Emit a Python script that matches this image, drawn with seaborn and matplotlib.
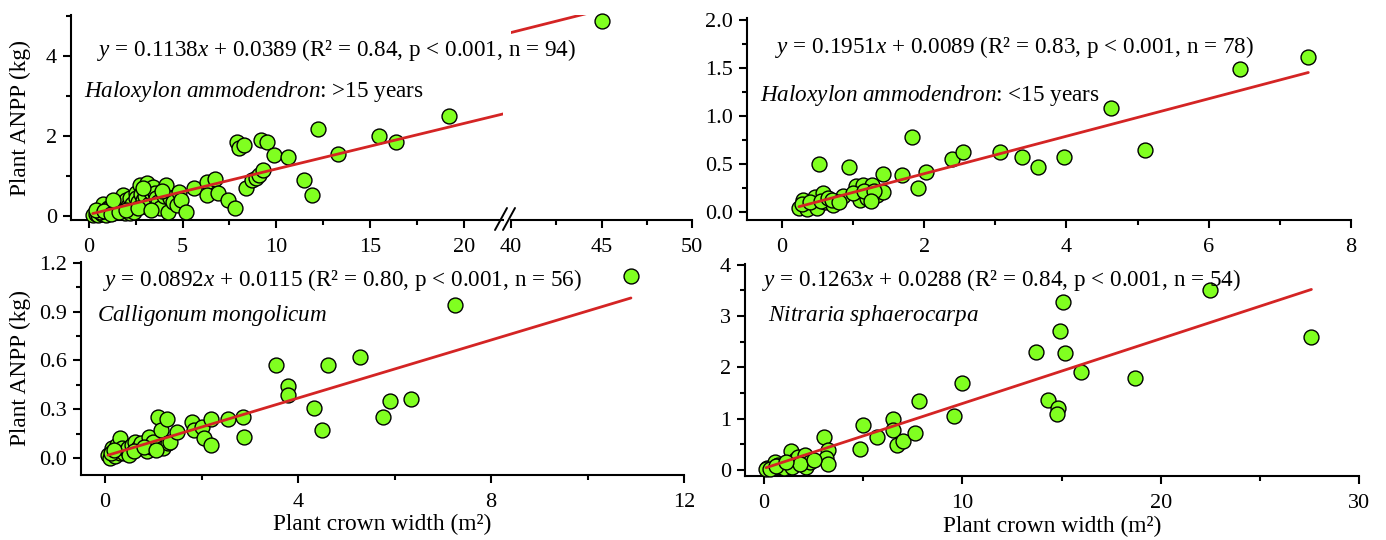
import numpy as np
import pandas as pd
import matplotlib
matplotlib.use("Agg")
import matplotlib.pyplot as plt
import seaborn as sns
from matplotlib.lines import Line2D
from matplotlib.ticker import FixedLocator, FormatStrFormatter

# ---------------- data ----------------
# Haloxylon ammodendron > 15 years
ha_old_x = [0.2, 0.35, 0.5, 0.7, 0.9, 0.6, 0.75, 1.0, 1.1, 1.2, 1.3, 1.4, 1.5, 1.6, 1.7, 1.8,
            1.9, 1.9, 2.0, 2.1, 2.2, 2.2, 2.3, 2.4, 2.5, 2.5, 2.6, 2.7, 2.8, 2.9, 3.0, 3.1,
            3.1, 3.2, 3.3, 3.4, 3.5, 3.6, 3.7, 3.8, 4.0, 4.1, 4.2, 4.3, 4.5, 4.7, 4.8, 4.9,
            5.2, 5.6, 6.3, 6.3, 6.7, 6.9, 7.4, 7.8, 7.9, 8.0, 8.3, 8.4, 8.7, 8.9, 9.1, 9.3,
            9.2, 9.5, 9.9, 10.6, 11.5, 11.9, 12.2, 13.3, 15.5, 16.4, 19.2, 45.0,
            0.4, 0.8, 1.15, 1.6, 2.0, 2.6, 2.9, 3.3, 1.3, 3.9]
ha_old_y = [0.02, 0.05, 0.03, 0.04, 0.02, 0.1, 0.3, 0.2, 0.15, 0.25, 0.07, 0.3, 0.2, 0.32, 0.3, 0.52,
            0.07, 0.35, 0.4, 0.25, 0.07, 0.45, 0.3, 0.1, 0.57, 0.45, 0.35, 0.78, 0.55, 0.4, 0.5, 0.82,
            0.23, 0.3, 0.6, 0.73, 0.57, 0.45, 0.35, 0.2, 0.5, 0.78, 0.1, 0.45, 0.35, 0.27, 0.6, 0.4,
            0.1, 0.7, 0.85, 0.53, 0.92, 0.57, 0.4, 0.2, 1.85, 1.7, 1.77, 0.7, 0.9, 0.95, 1.02, 1.15,
            1.9, 1.85, 1.52, 1.48, 0.9, 0.52, 2.17, 1.55, 2.0, 1.85, 2.5, 4.87,
            0.15, 0.12, 0.05, 0.1, 0.15, 0.2, 0.7, 0.15, 0.4, 0.62]

# Haloxylon ammodendron < 15 years
ha_young_x = [0.24, 0.3, 0.35, 0.46, 0.5, 0.58, 0.6, 0.72, 0.86, 0.52, 0.94, 1.04, 1.1, 1.14,
              1.2, 1.27, 1.34, 1.42, 1.42, 1.69, 1.83, 1.92, 2.03, 2.39, 2.55, 3.07, 3.38,
              3.6, 3.97, 4.63, 5.11, 6.44, 7.4,
              0.28, 0.4, 0.55, 0.65, 0.7, 0.8, 1.0, 1.15, 1.3, 1.25]
ha_young_y = [0.04, 0.13, 0.03, 0.16, 0.04, 0.2, 0.1, 0.07, 0.17, 0.5, 0.47, 0.27, 0.13, 0.28,
              0.15, 0.28, 0.18, 0.21, 0.4, 0.39, 0.78, 0.25, 0.42, 0.55, 0.63, 0.63, 0.57,
              0.47, 0.57, 1.08, 0.65, 1.49, 1.61,
              0.08, 0.1, 0.12, 0.15, 0.13, 0.1, 0.2, 0.22, 0.22, 0.12]

# Calligonum mongolicum
cm_x = [0.06, 0.1, 0.15, 0.2, 0.22, 0.25, 0.3, 0.3, 0.35, 0.4, 0.45, 0.48, 0.55, 0.62, 0.68,
        0.75, 0.87, 0.9, 0.95, 1.0, 1.1, 1.15, 1.2, 1.29, 1.3, 1.35, 1.5, 1.8, 1.85, 2.0,
        2.05, 2.2, 2.2, 2.55, 2.85, 2.88, 3.55, 3.8, 3.8, 4.34, 4.5, 4.63, 5.29, 5.76,
        5.9, 6.35, 7.26, 10.9, 0.12, 0.18, 0.5, 0.6, 0.8, 1.05]
cm_y = [0.02, 0.0, 0.06, 0.01, 0.04, 0.08, 0.12, 0.03, 0.06, 0.03, 0.05, 0.06, 0.08, 0.1, 0.06,
        0.09, 0.04, 0.13, 0.07, 0.1, 0.25, 0.17, 0.06, 0.24, 0.09, 0.1, 0.16, 0.22, 0.17, 0.19,
        0.12, 0.24, 0.08, 0.24, 0.25, 0.13, 0.57, 0.44, 0.39, 0.31, 0.17, 0.57, 0.62, 0.25,
        0.35, 0.36, 0.94, 1.12, 0.03, 0.05, 0.02, 0.04, 0.07, 0.05]

# Nitraria sphaerocarpa
ns_x = [0.15, 0.45, 0.55, 0.9, 1.2, 1.36, 1.56, 1.71, 2.06, 2.1, 2.3, 3.0, 3.2, 3.1, 3.25,
        4.84, 5.0, 5.7, 6.5, 6.5, 6.7, 7.0, 7.6, 7.8, 9.6, 9.98, 13.7, 14.3, 15.06, 14.9,
        15.2, 16.0, 14.8, 14.75, 18.7, 22.5, 27.6,
        0.1, 0.3, 0.7, 1.0, 1.4, 1.8, 0.6, 1.1, 2.5]
ns_y = [0.04, 0.04, 0.16, 0.06, 0.1, 0.37, 0.19, 0.25, 0.29, 0.06, 0.16, 0.64, 0.39, 0.23, 0.12,
        0.4, 0.87, 0.64, 0.99, 0.78, 0.49, 0.56, 0.71, 1.34, 1.05, 1.69, 2.29, 1.36, 3.26, 2.7,
        2.27, 1.9, 1.2, 1.09, 1.79, 3.51, 2.58,
        0.02, 0.01, 0.1, 0.04, 0.05, 0.12, 0.08, 0.15, 0.2]

slopes = [0.1138, 0.1951, 0.0892, 0.1263]
intercepts = [0.0389, 0.0089, 0.0115, 0.0288]
equations = [r"$y$ = 0.1138$x$ + 0.0389 (R² = 0.84, p < 0.001, n = 94)",
             r"$y$ = 0.1951$x$ + 0.0089 (R² = 0.83, p < 0.001, n = 78)",
             r"$y$ = 0.0892$x$ + 0.0115 (R² = 0.80, p < 0.001, n = 56)",
             r"$y$ = 0.1263$x$ + 0.0288 (R² = 0.84, p < 0.001, n = 54)"]
species = [r"$\mathit{Haloxylon\ ammodendron}$: >15 years",
           r"$\mathit{Haloxylon\ ammodendron}$: <15 years",
           r"$\mathit{Calligonum\ mongolicum}$",
           r"$\mathit{Nitraria\ sphaerocarpa}$"]
y_label = "Plant ANPP (kg)"
x_label = "Plant crown width (m²)"

# ---------------- style ----------------
sns.set_style("ticks")
plt.rcParams['font.family'] = ['Liberation Serif', 'DejaVu Serif']
plt.rcParams['mathtext.fontset'] = 'custom'
plt.rcParams['mathtext.rm'] = 'Liberation Serif'
plt.rcParams['mathtext.it'] = 'Liberation Serif:italic'
plt.rcParams['axes.edgecolor'] = 'black'
plt.rcParams['xtick.color'] = 'black'
plt.rcParams['ytick.color'] = 'black'
plt.rcParams['text.color'] = 'black'
plt.rcParams['axes.labelcolor'] = 'black'

GREEN = '#80ff20'
RED = '#d42424'
TICK_FS = 16
TEXT_FS = 16.7
LABEL_FS = 16.8

W, H = 1386, 540
fig = plt.figure(figsize=(W / 100, H / 100), dpi=100)


def px_axes(l, t, r, b):
    return fig.add_axes([l / W, 1 - b / H, (r - l) / W, (b - t) / H])


def style(ax, xmaj, xmin, ymaj, ymin, yfmt=None, left=True):
    sns.despine(ax=ax, top=True, right=True, left=not left)
    for s in ['left', 'bottom']:
        ax.spines[s].set_linewidth(1.5)
    ax.xaxis.set_major_locator(FixedLocator(xmaj))
    ax.xaxis.set_minor_locator(FixedLocator(xmin))
    ax.yaxis.set_major_locator(FixedLocator(ymaj))
    ax.yaxis.set_minor_locator(FixedLocator(ymin))
    if yfmt:
        ax.yaxis.set_major_formatter(FormatStrFormatter(yfmt))
    ax.tick_params(which='major', direction='out', length=6, width=1.5, labelsize=TICK_FS, pad=4)
    ax.tick_params(which='minor', direction='out', length=3.5, width=1.5)
    ax.tick_params(axis='x', which='major', pad=7)
    if not left:
        ax.tick_params(axis='y', which='both', left=False, labelleft=False)
    ax.set_xlabel("")
    ax.set_ylabel("")


def draw(ax, x, y, k, xr):
    df = pd.DataFrame({'x': x, 'y': y})
    sns.scatterplot(data=df, x='x', y='y', ax=ax, color=GREEN, edgecolor='black',
                    linewidth=1.0, s=115, zorder=3, clip_on=False, legend=False)
    xs = np.array(xr)
    line = pd.DataFrame({'x': xs, 'y': slopes[k] * xs + intercepts[k]})
    sns.lineplot(data=line, x='x', y='y', ax=ax, color=RED, linewidth=2.0, zorder=4,
                 estimator=None, legend=False)


# ---- top-left (broken axis) ----
hx = np.array(ha_old_x); hy = np.array(ha_old_y)
axA = px_axes(71, 15, 503, 220)
axB = px_axes(511, 15, 692, 220)
draw(axA, hx[hx < 30], hy[hx < 30], 0, [hx.min(), hx.max()])
draw(axB, hx[hx > 30], hy[hx > 30], 0, [hx.min(), hx.max()])
axA.set_xlim(-0.96, 22.1); axA.set_ylim(-0.1, 5.03)
axB.set_xlim(40, 50); axB.set_ylim(-0.1, 5.03)
style(axA, [0, 5, 10, 15, 20], [2.5, 7.5, 12.5, 17.5], [0, 2, 4], [1, 3, 5])
style(axB, [40, 45, 50], [42.5, 47.5], [0, 2, 4], [1, 3, 5], left=False)
axA.set_ylabel(y_label, fontsize=LABEL_FS)
for (x0, x1) in [(495, 507), (503, 515)]:
    fig.add_artist(Line2D([x0 / W, x1 / W], [1 - 230 / H, 1 - 208 / H],
                          transform=fig.transFigure, color='black', lw=1.4))

# ---- top-right ----
axC = px_axes(747, 18, 1351, 220)
draw(axC, ha_young_x, ha_young_y, 1, [min(ha_young_x), max(ha_young_x)])
axC.set_xlim(-0.49, 8); axC.set_ylim(-0.083, 2.02)
style(axC, [0, 2, 4, 6, 8], [1, 3, 5, 7], [0, 0.5, 1.0, 1.5, 2.0],
      [0.25, 0.75, 1.25, 1.75], yfmt='%.1f')

# ---- bottom-left ----
axD = px_axes(81, 262, 684, 475)
draw(axD, cm_x, cm_y, 2, [min(cm_x), max(cm_x)])
axD.set_xlim(-0.5, 12); axD.set_ylim(-0.105, 1.205)
style(axD, [0, 4, 8, 12], [2, 6, 10], [0, 0.3, 0.6, 0.9, 1.2],
      [0.15, 0.45, 0.75, 1.05], yfmt='%.1f')
axD.set_ylabel(y_label, fontsize=LABEL_FS)
axD.set_xlabel(x_label, fontsize=LABEL_FS, labelpad=1)

# ---- bottom-right ----
axE = px_axes(745, 264, 1359, 476)
draw(axE, ns_x, ns_y, 3, [min(ns_x), max(ns_x)])
axE.set_xlim(-0.96, 30); axE.set_ylim(-0.12, 4.01)
style(axE, [0, 10, 20, 30], [5, 15, 25], [0, 1, 2, 3, 4], [0.5, 1.5, 2.5, 3.5])
axE.set_xlabel(x_label, fontsize=LABEL_FS, labelpad=2)

axA.yaxis.set_label_coords(-(71 - 31) / (503 - 71), 0.5)
axD.yaxis.set_label_coords(-(81 - 31) / (684 - 81), 0.5)

# ---- annotations ----
texts = [(97, 50, equations[0]), (84, 92, species[0]),
         (775, 47, equations[1]), (760, 95, species[1]),
         (103, 280, equations[2]), (97, 315, species[2]),
         (762, 280, equations[3]), (768, 315, species[3])]
for px, py, t in texts:
    fig.text(px / W, 1 - py / H, t, fontsize=TEXT_FS, ha='left', va='center')

fig.savefig("out.png", dpi=100)
